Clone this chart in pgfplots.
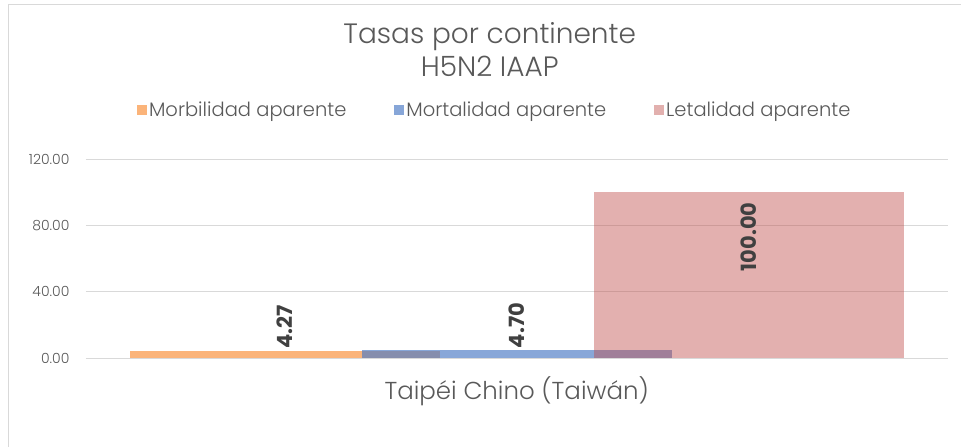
\documentclass[border=0pt]{standalone}
\usepackage{pgfplots}
\pgfplotsset{compat=1.18}
\usepackage{fontspec}
\setmainfont{Poppins}
\newfontfamily\lightfont{Poppins}[UprightFont=* Light]
\definecolor{morb}{HTML}{FBB47A}
\definecolor{mort}{HTML}{4F7DC6}
\definecolor{leta}{HTML}{C0504D}
\definecolor{gridc}{HTML}{D9D9D9}
\definecolor{txt}{HTML}{595959}
\definecolor{lbl}{HTML}{404040}

\begin{document}
\begin{tikzpicture}[x=1pt,y=1pt]
  % page frame, 961 x 447
  \path (0,0) rectangle (961,447);
  \draw[gridc, line width=1pt] (9,0) -- (9,442) -- (961,442);

  \begin{axis}[
    at={(86pt,88.7pt)}, anchor=south west,
    scale only axis,
    width=862pt, height=199pt,
    xmin=-1, xmax=1,
    ymin=0, ymax=120,
    ytick={0,40,80,120},
    xtick={0},
    xticklabels={Taipéi Chino (Taiwán)},
    ymajorgrids,
    grid style={gridc, line width=1pt},
    axis line style={draw=none},
    major tick style={draw=none},
    yticklabel style={font=\lightfont\fontsize{14}{15}\selectfont, text=txt, xshift=-13pt,
      /pgf/number format/fixed, /pgf/number format/fixed zerofill,
      /pgf/number format/precision=2, /pgf/number format/assume math mode=true},
    xticklabel style={font=\lightfont\fontsize{24.5}{26}\selectfont, text=txt, yshift=-11pt},
    ybar, bar width=310pt,
    nodes near coords,
    nodes near coords style={font=\bfseries\fontsize{21}{23}\selectfont, text=lbl,
      rotate=90, anchor=west, inner sep=2pt, text opacity=1,
      /pgf/number format/fixed, /pgf/number format/fixed zerofill,
      /pgf/number format/precision=2, /pgf/number format/assume math mode=true},
    title={Tasas por continente\\H5N2 IAAP},
    title style={at={(0.4687,1.52)}, anchor=center, align=center,
      font=\lightfont\fontsize{28}{33}\selectfont, text=txt},
    legend columns=-1,
    legend style={at={(0.4745,1.248)}, anchor=center, draw=none,
      font=\lightfont\fontsize{19.5}{22}\selectfont, text=txt,
      /tikz/every even column/.append style={column sep=46pt}},
    legend image code/.code={\fill[#1] (0pt,-5pt) rectangle (10pt,5pt);},
  ]
    \addplot[fill=morb, draw=none, bar shift=-232pt] coordinates {(0,4.27)};
    \addplot[fill=mort, fill opacity=0.68, draw=none, bar shift=0pt] coordinates {(0,4.70)};
    \addplot[fill=leta, fill opacity=0.45, draw=none, bar shift=232pt,
      nodes near coords style={anchor=east, inner sep=10pt}] coordinates {(0,100.00)};
    \legend{Morbilidad aparente, Mortalidad aparente, Letalidad aparente}
  \end{axis}
\end{tikzpicture}
\end{document}
